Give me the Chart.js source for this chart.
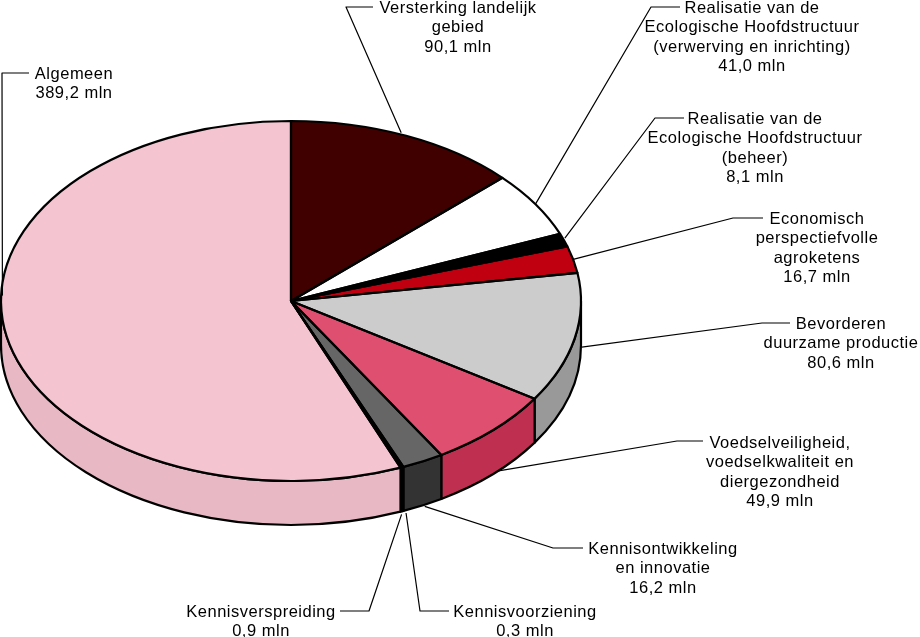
<!DOCTYPE html>
<html lang="nl">
<head>
<meta charset="utf-8">
<title>Budget per onderdeel</title>
<style>
    html, body { margin: 0; padding: 0; background: #fff; }
    canvas { display: block; }
</style>
<script src="https://cdn.jsdelivr.net/npm/chart.js@4/dist/chart.umd.min.js"></script>
</head>
<body>
<canvas id="pieChart" width="920" height="637"></canvas>
<script>
// Values in mln, clockwise from 12 o'clock
const categories = [
    "Versterking landelijk\ngebied",
    "Realisatie van de\nEcologische Hoofdstructuur\n(verwerving en inrichting)",
    "Realisatie van de\nEcologische Hoofdstructuur\n(beheer)",
    "Economisch\nperspectiefvolle\nagroketens",
    "Bevorderen\nduurzame productie",
    "Voedselveiligheid,\nvoedselkwaliteit en\ndiergezondheid",
    "Kennisontwikkeling\nen innovatie",
    "Kennisvoorziening",
    "Kennisverspreiding",
    "Algemeen"
];
const values = [90.1, 41.0, 8.1, 16.7, 80.6, 49.9, 16.2, 0.3, 0.9, 389.2];

const topColors = ["#400000", "#ffffff", "#000000", "#c00010", "#cccccc", "#df5070", "#666666", "#000000", "#000000", "#f4c4d0"];
const wallColors = ["#200000", "#cccccc", "#000000", "#900010", "#999999", "#bf3050", "#333333", "#000000", "#000000", "#e8b8c4"];

// Label placement: text centre, first line y, leader anchor offset from the rim, elbow, leader end
const labelCenters = [458, 752, 755, 817, 841, 780, 663, 525, 261, 74];
const labelTops = [8, 8, 119, 219, 324, 443, 549, 612, 612, 74];
const anchorOffsets = [[-5, -3], [0, 0], [1, -2], [0, 0], [7, 9], [4, 41], [2, 45], [3, 46], [0, 47], [-4, -40]];
const elbows = [[346, 7], [651, 7], [655, 118], [733, 218], [762, 323], [677, 441], [553, 548], [420, 611], [369, 611], [2, 73]];
const leaderEnds = [373, 680, 684, 763, 790, 703, 583, 449, 340, 29];

const pieCenterY = 301;
const tilt = 180 / 290;
const wallDepth = 44;
const lineGap = 19.5;

function rimRadiusY(arc) {
    return arc.outerRadius * tilt;
}

// Side of the pie, only the front half of the rim is visible
function drawWalls(ctx, arcs) {
    arcs.forEach((arc, i) => {
        const start = Math.max(arc.startAngle, 0);
        const end = Math.min(arc.endAngle, Math.PI);
        if (start >= end) return;
        ctx.beginPath();
        ctx.ellipse(arc.x, pieCenterY, arc.outerRadius, rimRadiusY(arc), 0, start, end);
        ctx.ellipse(arc.x, pieCenterY + wallDepth, arc.outerRadius, rimRadiusY(arc), 0, end, start, true);
        ctx.closePath();
        ctx.fillStyle = wallColors[i];
        ctx.fill();
        ctx.strokeStyle = "#000";
        ctx.lineWidth = 2.2;
        ctx.lineJoin = "round";
        ctx.stroke();
    });
}

function drawOutlines(ctx, arcs) {
    arcs.forEach(arc => {
        ctx.beginPath();
        ctx.moveTo(arc.x, pieCenterY);
        ctx.ellipse(arc.x, pieCenterY, arc.outerRadius, rimRadiusY(arc), 0, arc.startAngle, arc.endAngle);
        ctx.closePath();
        ctx.strokeStyle = "#000";
        ctx.lineWidth = 2.2;
        ctx.lineJoin = "round";
        ctx.stroke();
    });
}

function drawLabels(ctx, arcs) {
    arcs.forEach((arc, i) => {
        const mid = (arc.startAngle + arc.endAngle) / 2;
        const x = arc.x + arc.outerRadius * Math.cos(mid) + anchorOffsets[i][0];
        const y = pieCenterY + rimRadiusY(arc) * Math.sin(mid) + anchorOffsets[i][1];

        ctx.beginPath();
        ctx.moveTo(x, y);
        ctx.lineTo(elbows[i][0], elbows[i][1]);
        ctx.lineTo(leaderEnds[i], elbows[i][1]);
        ctx.strokeStyle = "#000";
        ctx.lineWidth = 1.2;
        ctx.stroke();

        const lines = categories[i].split("\n");
        lines.push(values[i].toFixed(1).replace(".", ",") + " mln");
        ctx.fillStyle = "#000";
        ctx.font = "16.5px 'Liberation Sans'";
        ctx.letterSpacing = "0.5px";
        ctx.textAlign = "center";
        ctx.textBaseline = "middle";
        lines.forEach((line, n) => {
            ctx.fillText(line, labelCenters[i], labelTops[i] + n * lineGap);
        });
    });
}

// Squash the round pie into an ellipse and add the depth around it
const tiltedPie = {
    id: "tiltedPie",
    beforeDatasetsDraw(chart) {
        const ctx = chart.ctx;
        const arcs = chart.getDatasetMeta(0).data;
        drawWalls(ctx, arcs);
        ctx.save();
        ctx.translate(0, pieCenterY - arcs[0].y * tilt);
        ctx.scale(1, tilt);
    },
    afterDatasetsDraw(chart) {
        const ctx = chart.ctx;
        const arcs = chart.getDatasetMeta(0).data;
        ctx.restore();
        drawOutlines(ctx, arcs);
        drawLabels(ctx, arcs);
    }
};

new Chart(document.getElementById("pieChart"), {
    type: "pie",
    data: {
        labels: categories,
        datasets: [{
            data: values,
            backgroundColor: topColors,
            borderWidth: 0,
            clip: false
        }]
    },
    options: {
        responsive: false,
        animation: false,
        layout: { padding: { left: 1, right: 339, top: 0, bottom: 57 } },
        plugins: {
            legend: { display: false },
            tooltip: { enabled: false }
        }
    },
    plugins: [tiltedPie]
});
</script>
</body>
</html>
